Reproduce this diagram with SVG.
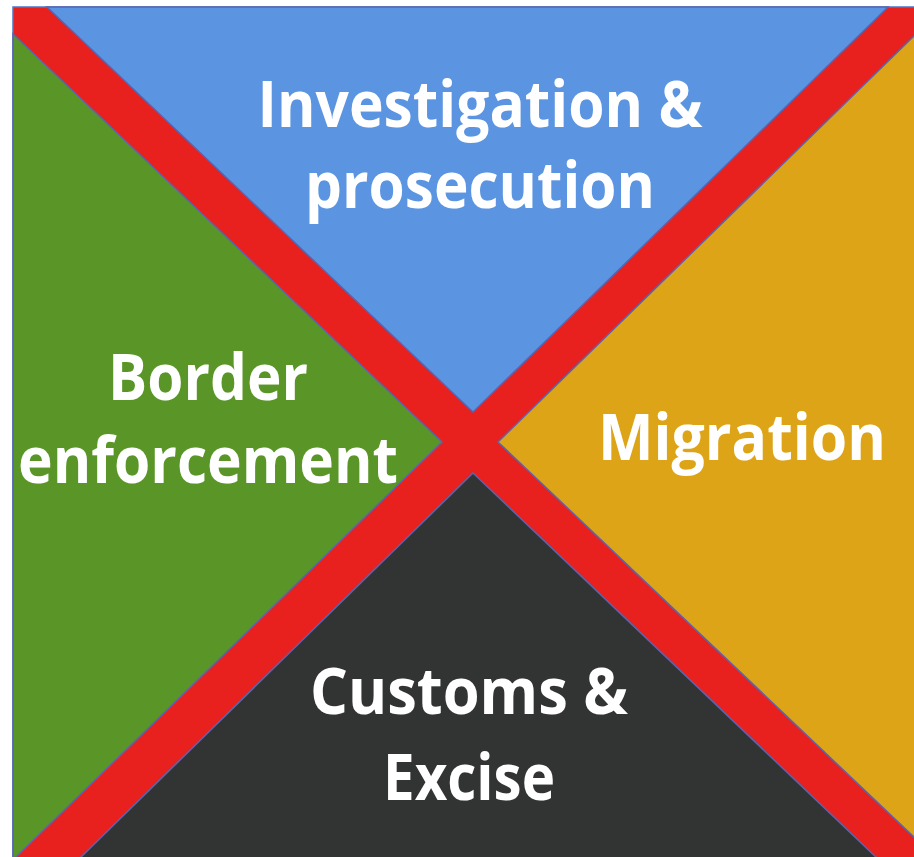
<svg xmlns="http://www.w3.org/2000/svg" width="914" height="857" viewBox="0 0 914 857">
<style>
.tri{stroke:#5a64b0;stroke-width:1.5;stroke-linejoin:miter}
.lbl{font-family:"Open Sans","Liberation Sans",sans-serif;font-weight:bold;font-size:64px;fill:#ffffff;text-anchor:middle}
</style>
<rect x="0" y="0" width="914" height="857" fill="#ffffff"/>
<g id="frame">
<rect x="13" y="7" width="910" height="860" fill="#e8211f" stroke="#4a78c8" stroke-width="1.5"/>
</g>
<g id="investigation">
<polygon class="tri" points="47,7 888,7 473,412" fill="#5b95e2"/>
<text class="lbl" x="480" y="127" textLength="445" lengthAdjust="spacingAndGlyphs">Investigation &amp;</text>
<text class="lbl" x="480" y="208" textLength="350" lengthAdjust="spacingAndGlyphs">prosecution</text>
</g>
<g id="border">
<polygon class="tri" points="13,34 442,442 13,860" fill="#5a9627"/>
<text class="lbl" x="208" y="400" textLength="200" lengthAdjust="spacingAndGlyphs">Border</text>
<text class="lbl" x="208" y="483" textLength="380" lengthAdjust="spacingAndGlyphs">enforcement</text>
</g>
<g id="migration">
<polygon class="tri" points="498,442 916,34 916,839" fill="#dea418"/>
<text class="lbl" x="742" y="460" textLength="288" lengthAdjust="spacingAndGlyphs">Migration</text>
</g>
<g id="customs">
<polygon class="tri" points="473,473 878,859 79,859" fill="#323433"/>
<text class="lbl" x="469" y="714" textLength="318" lengthAdjust="spacingAndGlyphs">Customs &amp;</text>
<text class="lbl" x="469" y="800" textLength="172" lengthAdjust="spacingAndGlyphs">Excise</text>
</g>
<g id="connectors"></g>
</svg>
